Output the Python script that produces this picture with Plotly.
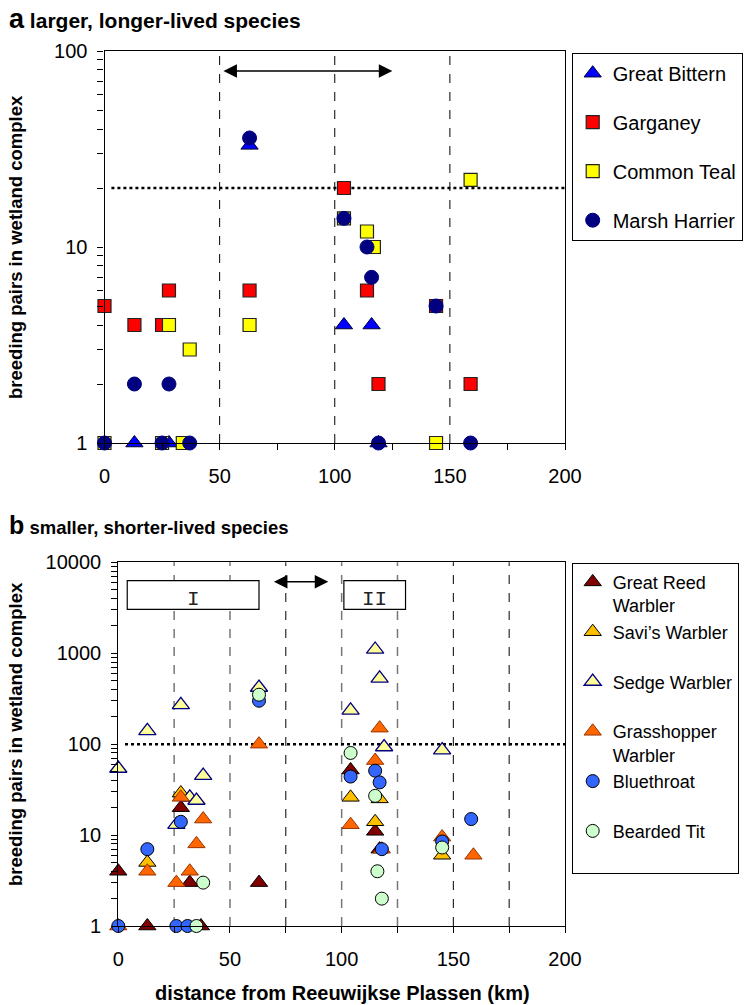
import math
import plotly.graph_objects as go

W, H = 748, 1005

# ---------------- Panel a: larger, longer-lived species ----------------
bittern_x = [63, 104, 116, 13, 28, 119]
bittern_y = [33, 4, 4, 1, 1, 1]

garganey_x = [0, 13, 25, 28, 63, 104, 114, 119, 144, 159]
garganey_y = [5, 4, 4, 6, 6, 20, 6, 2, 5, 2]

teal_x = [28, 37, 63, 104, 114, 117, 159, 0, 25, 34, 144]
teal_y = [4, 3, 4, 14, 12, 10, 22, 1, 1, 1, 1]

harrier_x = [63, 104, 114, 116, 144, 13, 28, 0, 25, 37, 119, 159]
harrier_y = [36, 14, 10, 7, 5, 2, 2, 1, 1, 1, 1, 1]

# ---------------- Panel b: smaller, shorter-lived species ----------------
grw_x = [0, 13, 28, 32, 37, 63, 104, 115, 117]
grw_y = [4, 1, 20, 3, 1, 3, 52, 11, 7]

savi_x = [13, 28, 104, 115, 117, 145]
savi_y = [5, 29, 26, 14, 25, 6]

sedge_x = [0, 13, 26, 28, 32, 35, 38, 63, 104, 115, 117, 119, 145]
sedge_y = [54, 140, 13, 270, 26, 24, 45, 420, 235, 1100, 530, 93, 86]

grass_x = [0, 13, 26, 28, 32, 35, 38, 63, 104, 115, 117, 118, 145, 159]
grass_y = [1, 4, 3, 26, 4, 8, 15, 100, 13, 66, 150, 7, 9.5, 6]

blue_x = [0, 13, 26, 28, 31, 63, 104, 115, 117, 118, 145, 158]
blue_y = [1, 7, 1, 14, 1, 300, 44, 51, 38, 7, 8.5, 15]

beard_x = [35, 38, 63, 104, 115, 116, 118, 145]
beard_y = [1, 3, 350, 80, 27, 4, 2, 7.3]

# reference lines / annotations
a_threshold = 20
a_dashed = [50, 100, 150]
a_arrow = [51, 125]
a_arrow_level = 79

b_threshold = 100
b_gray_dashed = [25, 50, 100, 125]
b_black_dashed = [75, 150, 175]
b_arrow = [69, 94]
b_regions = [("I", 4, 63), ("II", 101, 128.6)]

x_ticks = [0, 50, 100, 150, 200]
a_yticks = [1, 10, 100]
b_yticks = [1, 10, 100, 1000, 10000]

FONT = "Liberation Sans, Arial, Helvetica, sans-serif"

fig = go.Figure()


def add(name, xs, ys, symbol, size, fill, lc, lw, xa, ya, legend):
    fig.add_trace(go.Scatter(
        x=xs, y=ys, mode="markers", name=name, legendgroup=name, legend=legend,
        xaxis=xa, yaxis=ya, cliponaxis=False, showlegend=True,
        marker=dict(symbol=symbol, size=size, color=fill, line=dict(color=lc, width=lw)),
    ))


add("Great Bittern", bittern_x, bittern_y, "triangle-up", 15, "#0000FF", "#000033", 1, "x", "y", "legend")
add("Garganey", garganey_x, garganey_y, "square", 13, "#FF0000", "#222222", 1.2, "x", "y", "legend")
add("Common Teal", teal_x, teal_y, "square", 13, "#FFFF00", "#222222", 1.2, "x", "y", "legend")
add("Marsh Harrier", harrier_x, harrier_y, "circle", 14, "#000080", "#000080", 1, "x", "y", "legend")

add("Great Reed<br>Warbler", grw_x, grw_y, "triangle-up", 15, "#800000", "#000000", 1, "x2", "y2", "legend2")
add("Savi’s Warbler<br>&nbsp;", savi_x, savi_y, "triangle-up", 15, "#FFC000", "#000000", 1, "x2", "y2", "legend2")
add("Sedge Warbler<br>&nbsp;", sedge_x, sedge_y, "triangle-up", 15, "#FFFF99", "#000080", 1.3, "x2", "y2", "legend2")
add("Grasshopper<br>Warbler", grass_x, grass_y, "triangle-up", 15, "#FF6600", "#993300", 1, "x2", "y2", "legend2")
add("Bluethroat<br>&nbsp;", blue_x, blue_y, "circle", 13, "#3366FF", "#000000", 1, "x2", "y2", "legend2")
add("Bearded Tit<br>&nbsp;", beard_x, beard_y, "circle", 13, "#CCFFCC", "#000000", 1, "x2", "y2", "legend2")

axis_common = dict(
    showline=True, linecolor="black", linewidth=1.2, mirror=True,
    showgrid=False, zeroline=False, ticks="outside", ticklen=6,
    tickcolor="black", tickwidth=1, automargin=False,
    tickfont=dict(family=FONT, size=20, color="black"),
)

minor_a = [v * d for d in (1, 10) for v in range(2, 10)]
minor_b = [v * d for d in (1, 10, 100, 1000) for v in range(2, 10)]

fig.update_layout(
    width=W, height=H, autosize=False,
    margin=dict(l=0, r=0, t=0, b=0, pad=0, autoexpand=False),
    paper_bgcolor="white", plot_bgcolor="white",
    font=dict(family=FONT, color="black"),
    xaxis=dict(domain=[104.5 / W, 565 / W], range=[0, 200], anchor="y",
               tickvals=x_ticks, ticklabelstandoff=9,
               minor=dict(dtick=25, tick0=0, ticks="outside", ticklen=6, tickcolor="black"),
               **axis_common),
    yaxis=dict(domain=[1 - 443 / H, 1 - 51 / H], type="log", range=[0, 2], anchor="x",
               tickvals=a_yticks, ticktext=[str(v) for v in a_yticks], ticklabelstandoff=6,
               minor=dict(tickvals=minor_a, ticks="outside", ticklen=6, tickcolor="black"),
               **axis_common),
    xaxis2=dict(domain=[118.3 / W, 565 / W], range=[0, 200], anchor="y2",
                tickvals=x_ticks, ticklabelstandoff=9,
                minor=dict(dtick=25, tick0=0, ticks="outside", ticklen=6, tickcolor="black"),
                **axis_common),
    yaxis2=dict(domain=[1 - 926 / H, 1 - 562.3 / H], type="log", range=[0, 4], anchor="x2",
                tickvals=b_yticks, ticktext=[str(v) for v in b_yticks], ticklabelstandoff=6,
                minor=dict(tickvals=minor_b, ticks="outside", ticklen=6, tickcolor="black"),
                **axis_common),
    legend=dict(x=571.7 / W, y=1 - 52.7 / H, xanchor="left", yanchor="top",
                bgcolor="white", bordercolor="black", borderwidth=1,
                font=dict(family=FONT, size=20, color="black"),
                tracegroupgap=20, itemsizing="trace"),
    legend2=dict(x=571.7 / W, y=1 - 562.7 / H, xanchor="left", yanchor="top",
                 bgcolor="white", bordercolor="black", borderwidth=1,
                 font=dict(family=FONT, size=18, color="black"),
                 tracegroupgap=0, valign="top", itemsizing="trace"),
)

shapes = []
for v in a_dashed:
    shapes.append(dict(type="line", xref="x", yref="y domain", x0=v, x1=v, y0=0, y1=1,
                       line=dict(color="black", width=1, dash="dash"), layer="below"))
shapes.append(dict(type="line", xref="x", yref="y", x0=3, x1=200,
                   y0=a_threshold, y1=a_threshold,
                   line=dict(color="black", width=2.5, dash="dot"), layer="below"))
for v in b_gray_dashed:
    shapes.append(dict(type="line", xref="x2", yref="y2 domain", x0=v, x1=v, y0=0, y1=1,
                       line=dict(color="#777777", width=1.5, dash="dash"), layer="below"))
for v in b_black_dashed:
    shapes.append(dict(type="line", xref="x2", yref="y2 domain", x0=v, x1=v, y0=0, y1=1,
                       line=dict(color="black", width=1, dash="dash"), layer="below"))
shapes.append(dict(type="line", xref="x2", yref="y2", x0=3, x1=200,
                   y0=b_threshold, y1=b_threshold,
                   line=dict(color="black", width=2.5, dash="dot"), layer="below"))
for label, x0, x1 in b_regions:
    shapes.append(dict(type="rect", xref="x2", yref="y2 domain", x0=x0, x1=x1,
                       y0=0.8708, y1=0.9494, fillcolor="white",
                       line=dict(color="black", width=1.2), layer="above"))
fig.update_layout(shapes=shapes)

ann = []
# arrows
ya = math.log10(a_arrow_level)
ann.append(dict(x=a_arrow[1], y=ya, ax=a_arrow[0], ay=ya, xref="x", yref="y",
                axref="x", ayref="y", text="", showarrow=True, arrowside="end+start",
                arrowhead=2, startarrowhead=2, arrowsize=1.8, startarrowsize=1.8,
                arrowwidth=1.5, arrowcolor="black", standoff=0, startstandoff=0))
yb = 0.9467 * 4
ann.append(dict(x=b_arrow[1], y=yb, ax=b_arrow[0], ay=yb, xref="x2", yref="y2",
                axref="x2", ayref="y2", text="", showarrow=True, arrowside="end+start",
                arrowhead=2, startarrowhead=2, arrowsize=1.8, startarrowsize=1.8,
                arrowwidth=1.5, arrowcolor="black", standoff=0, startstandoff=0))
for label, x0, x1 in b_regions:
    ann.append(dict(x=(x0 + x1) / 2, y=0.899, xref="x2", yref="y2 domain", text=label,
                    yanchor="middle", showarrow=False,
                    font=dict(family="Liberation Mono, Courier New, monospace",
                              size=21, color="#222222")))
# titles
ann.append(dict(x=7 / W, y=1 - 19 / H, xref="paper", yref="paper", xanchor="left", yanchor="middle",
                showarrow=False,
                text="<b><span style='font-size:27px'>a</span> larger, longer-lived species</b>",
                font=dict(family=FONT, size=21, color="black")))
ann.append(dict(x=7 / W, y=1 - 525 / H, xref="paper", yref="paper", xanchor="left", yanchor="middle",
                showarrow=False,
                text="<b><span style='font-size:25px'>b</span> smaller, shorter-lived species</b>",
                font=dict(family=FONT, size=18.5, color="black")))
for yc in (247, 734):
    ann.append(dict(x=15 / W, y=1 - yc / H, xref="paper", yref="paper", xanchor="center",
                    yanchor="middle", textangle=-90, showarrow=False,
                    text="<b>breeding pairs in wetland complex</b>",
                    font=dict(family=FONT, size=18.5, color="black")))
ann.append(dict(x=342 / W, y=1 - 993 / H, xref="paper", yref="paper", xanchor="center",
                yanchor="middle", showarrow=False,
                text="<b>distance from Reeuwijkse Plassen (km)</b>",
                font=dict(family=FONT, size=20, color="black")))
fig.update_layout(annotations=ann)

fig.write_html(
    "out.html",
    config={"displayModeBar": False},
    post_script="document.body.style.margin='0';document.body.style.overflow='hidden';",
)
